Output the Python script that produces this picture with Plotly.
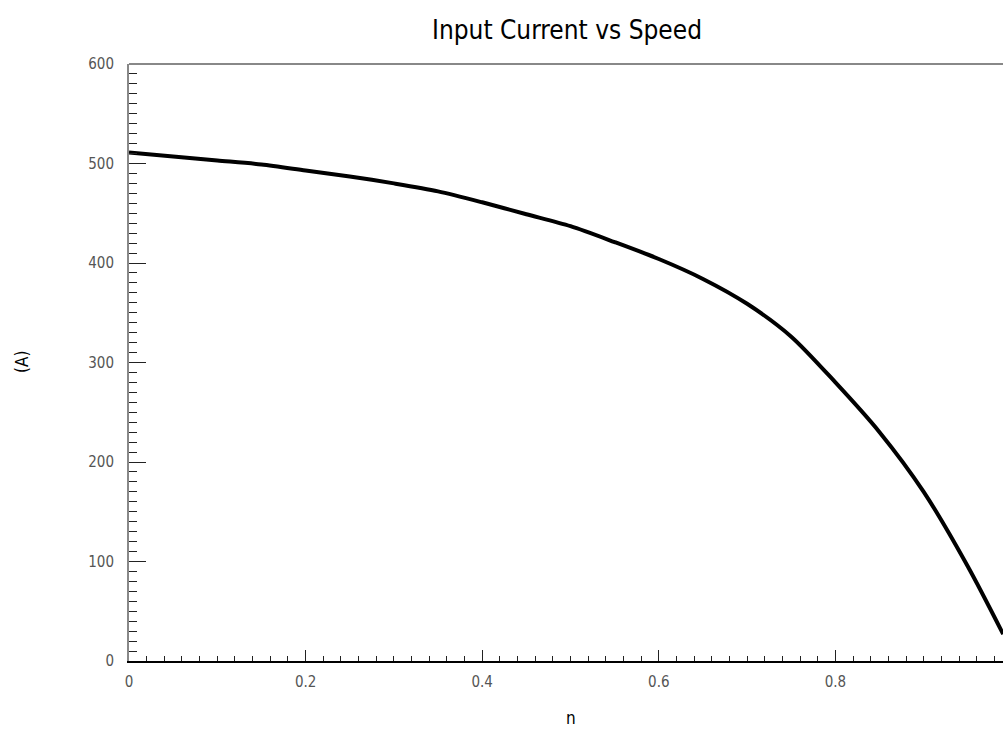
import plotly.graph_objects as go

speed = [0.0, 0.05, 0.1, 0.15, 0.2, 0.25, 0.3, 0.35, 0.4, 0.45, 0.5, 0.55,
         0.6, 0.65, 0.7, 0.75, 0.8, 0.85, 0.9, 0.95, 0.99]
current = [511, 507, 503, 499, 493, 487, 480, 472, 461, 449, 437, 421,
           404, 384, 359, 326, 280, 230, 170, 95, 27]

x_ticks = [0, 0.2, 0.4, 0.6, 0.8]
x_labels = ["0", "0.2", "0.4", "0.6", "0.8"]
y_ticks = [0, 100, 200, 300, 400, 500, 600]
y_labels = ["0", "100", "200", "300", "400", "500", "600"]

W, H = 1003, 730
L, R, T, B = 129, 0, 64, 69
FONT = "DejaVu Sans Condensed, Liberation Sans Narrow, DejaVu Sans, sans-serif"

fig = go.Figure()
fig.add_trace(go.Scatter(x=speed, y=current, mode="lines",
                         line=dict(color="black", width=4, shape="spline",
                                   smoothing=0.8),
                         showlegend=False, cliponaxis=True))

fig.update_layout(
    width=W, height=H,
    margin=dict(l=L, r=R, t=T, b=B, pad=0),
    paper_bgcolor="white", plot_bgcolor="white",
    showlegend=False,
    xaxis=dict(range=[0, (W - L) / 883.0], tickvals=x_ticks,
               ticktext=x_labels, ticks="inside", ticklen=11, tickwidth=1,
               tickcolor="#222", showgrid=False, zeroline=False,
               showline=True, linecolor="black", linewidth=2,
               tickfont=dict(family=FONT, size=15, color="#555"),
               ticklabelstandoff=6,
               minor=dict(dtick=0.02, ticks="inside", ticklen=5,
                          tickcolor="#222", tickwidth=1, showgrid=False)),
    yaxis=dict(range=[0, 600], tickvals=y_ticks, ticktext=y_labels,
               ticks="inside", ticklen=17, tickwidth=1, tickcolor="#222",
               showgrid=False, zeroline=False,
               showline=True, linecolor="#888", linewidth=2,
               tickfont=dict(family=FONT, size=15, color="#555"),
               ticklabelstandoff=10,
               minor=dict(dtick=10, ticks="inside", ticklen=8,
                          tickcolor="#222", tickwidth=1, showgrid=False)),
    shapes=[dict(type="line", xref="paper", yref="paper", x0=0, x1=1,
                 y0=1, y1=1, line=dict(color="#888", width=2))],
    annotations=[
        dict(text="Input Current vs Speed", xref="paper", yref="paper",
             x=(567 - L) / (W - L), y=1 + (T - 30) / (H - T - B),
             xanchor="center", yanchor="middle", showarrow=False,
             font=dict(family=FONT, size=26, color="black")),
        dict(text="n", xref="paper", yref="paper",
             x=(571 - L) / (W - L), y=-(718 - (H - B)) / (H - T - B),
             xanchor="center", yanchor="middle", showarrow=False,
             font=dict(family=FONT, size=17, color="black")),
        dict(text="(A)", xref="paper", yref="paper", textangle=-90,
             x=-(L - 22) / (W - L), y=(H - B - 362) / (H - T - B),
             xanchor="center", yanchor="middle", showarrow=False,
             font=dict(family=FONT, size=17, color="black")),
    ],
)

fig.write_html("out.html")
